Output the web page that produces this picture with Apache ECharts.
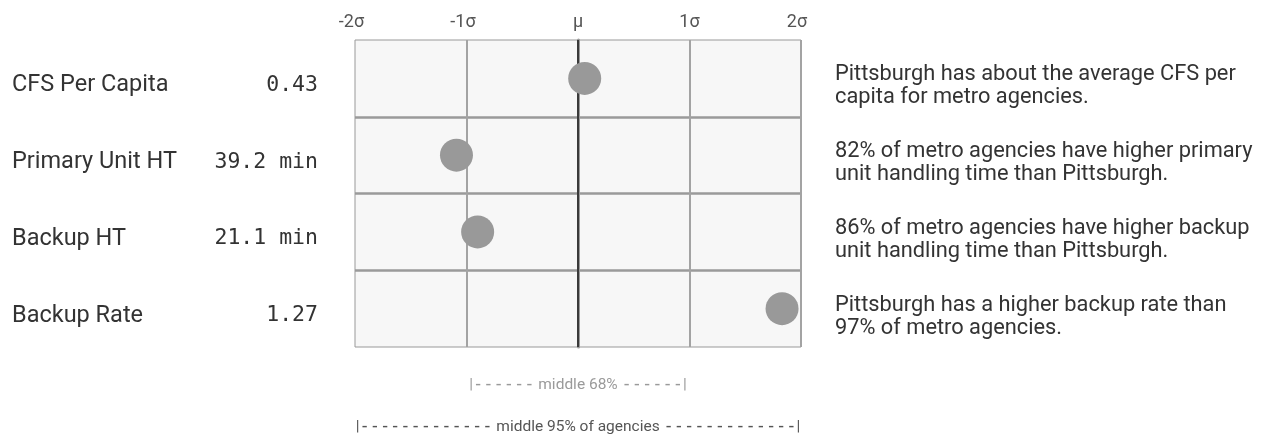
<!DOCTYPE html>
<html>
<head>
<meta charset="utf-8">
<script src="https://cdn.jsdelivr.net/npm/echarts@6/dist/echarts.min.js"></script>
<style>
html,body{margin:0;padding:0;background:#fff;}
#chart{width:1265px;height:436px;}
</style>
</head>
<body>
<div id="chart"></div>
<script>
const metrics = ['CFS Per Capita', 'Primary Unit HT', 'Backup HT', 'Backup Rate'];
const metricValues = ['0.43', '39.2 min', '21.1 min', '1.27'];
const zScores = [0.06, -1.09, -0.9, 1.83];
const notes = [
  'Pittsburgh has about the average CFS per\ncapita for metro agencies.',
  '82% of metro agencies have higher primary\nunit handling time than Pittsburgh.',
  '86% of metro agencies have higher backup\nunit handling time than Pittsburgh.',
  'Pittsburgh has a higher backup rate than\n97% of metro agencies.'
];
const sigmaTicks = {'-2': '-2σ', '-1': '-1σ', '0': 'μ', '1': '1σ', '2': '2σ'};
const bandLabels = ['|------ middle 68% ------|', '|------------- middle 95% of agencies -------------|'];

const SANS = 'Roboto, "Noto Sans", sans-serif';
const MONO = '"DejaVu Sans Mono", monospace';

// a small spacer line on top pushes each label a few pixels below the row centre
function spaced(text) {
  return '{s| }\n' + text.split('\n').map(l => '{a|' + l + '}').join('\n');
}
function dashRich(text) {
  return text.replace(/(-+)/g, '{d|$1}');
}

const chart = echarts.init(document.getElementById('chart'));
chart.setOption({
  animation: false,
  grid: {
    left: 355, right: 464, top: 40, bottom: 89,
    show: true, backgroundColor: '#f7f7f7', borderColor: '#999', borderWidth: 1
  },
  xAxis: {
    type: 'value', position: 'top', min: -2, max: 2, interval: 1,
    axisLine: {show: false}, axisTick: {show: false},
    axisLabel: {
      margin: 9, fontFamily: SANS, fontSize: 18, color: '#555',
      formatter: v => {
        const s = sigmaTicks[String(v)];
        if (v < 0) return '{neg|' + s + '}';
        if (v === 2) return '{end|' + s + '}';
        return s;
      },
      rich: {
        neg: {fontFamily: SANS, fontSize: 18, color: '#555', padding: [0, 7, 0, 0]},
        end: {fontFamily: SANS, fontSize: 18, color: '#555', padding: [0, 8, 0, 0]}
      }
    },
    splitLine: {show: true, showMinLine: false, showMaxLine: true, lineStyle: {color: '#a3a3a3', width: 2}}
  },
  yAxis: [
    {
      type: 'category', data: metrics, inverse: true,
      axisLine: {show: true, lineStyle: {color: '#9a9a9a', width: 3}}, axisTick: {show: false},
      splitLine: {show: true, showMinLine: false, showMaxLine: false, lineStyle: {color: '#9a9a9a', width: 2.5}},
      axisLabel: {
        interval: 0, align: 'left', margin: 343,
        formatter: spaced,
        rich: {
          s: {fontSize: 4, lineHeight: 14},
          a: {fontFamily: SANS, fontSize: 23.5, lineHeight: 28, color: '#333'}
        }
      }
    },
    {
      type: 'category', data: metricValues, inverse: true, position: 'left',
      axisLine: {show: false}, axisTick: {show: false}, splitLine: {show: false},
      axisLabel: {
        interval: 0, align: 'right', margin: 37,
        formatter: spaced,
        rich: {
          s: {fontSize: 4, lineHeight: 14},
          a: {fontFamily: MONO, fontSize: 21.5, lineHeight: 28, color: '#333'}
        }
      }
    },
    {
      type: 'category', data: notes, inverse: true, position: 'right',
      axisLine: {show: false}, axisTick: {show: false}, splitLine: {show: false},
      axisLabel: {
        interval: 0, align: 'left', margin: 34,
        formatter: spaced,
        rich: {
          s: {fontSize: 4, lineHeight: 16},
          a: {fontFamily: SANS, fontSize: 21.8, lineHeight: 23, color: '#333'}
        }
      }
    }
  ],
  series: [{
    type: 'scatter', yAxisIndex: 0,
    data: zScores.map((z, i) => [z, metrics[i]]),
    symbolSize: 33,
    itemStyle: {color: '#999', opacity: 1},
    z: 5,
    markLine: {
      silent: true, symbol: 'none', label: {show: false},
      lineStyle: {color: '#3a3a3a', width: 2, type: 'solid'},
      data: [{xAxis: 0}],
      z: 4
    }
  }]
});
const xMid = chart.convertToPixel({xAxisIndex: 0}, 0);
chart.setOption({
  graphic: [
    {type: 'text', x: xMid, y: 385, style: {text: dashRich(bandLabels[0]), fontFamily: SANS, fontSize: 15.5, fill: '#9a9a9a', align: 'center', verticalAlign: 'middle',
      rich: {d: {fontFamily: MONO, fontSize: 17, fill: '#9a9a9a'}}}},
    {type: 'text', x: xMid, y: 427, style: {text: dashRich(bandLabels[1]), fontFamily: SANS, fontSize: 15.5, fill: '#555', align: 'center', verticalAlign: 'middle',
      rich: {d: {fontFamily: MONO, fontSize: 17, fill: '#555'}}}}
  ]
});
</script>
</body>
</html>
